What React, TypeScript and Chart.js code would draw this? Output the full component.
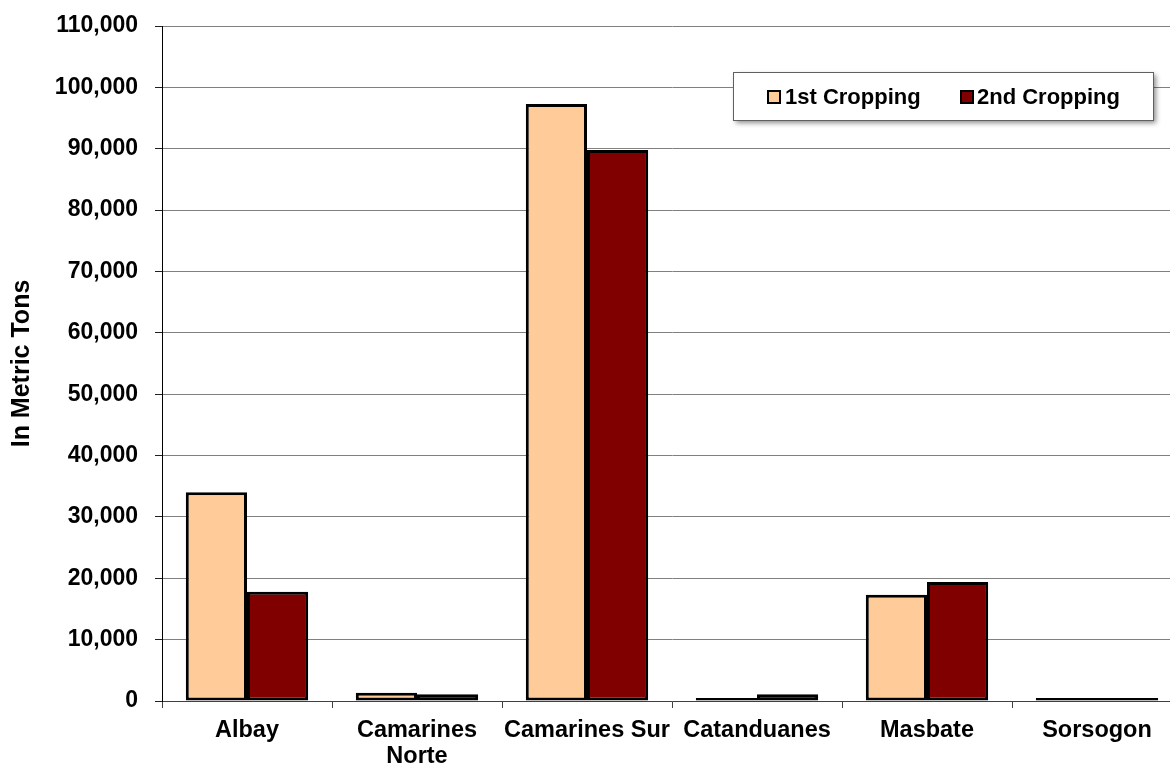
import React, { useEffect, useRef } from "react";
import { Chart, registerables } from "chart.js";

Chart.register(...registerables);

const categories: (string | string[])[] = [
  "Albay",
  ["Camarines", "Norte"],
  "Camarines Sur",
  "Catanduanes",
  "Masbate",
  "Sorsogon",
];
const firstCropping = [34000, 1350, 97300, 500, 17300, 500];
const secondCropping = [17800, 1100, 89800, 1100, 19400, 500];
const seriesLabels = ["1st Cropping", "2nd Cropping"];
const seriesColors = ["#FFCC99", "#800000"];
const yTitle = "In Metric Tons";

const FONT = "'Liberation Sans', Arial, sans-serif";

const boxLegend = {
  id: "boxLegend",
  afterDraw(chart: any) {
    const ctx = chart.ctx as CanvasRenderingContext2D;
    const x = 733, y = 72, w = 420, h = 48;
    ctx.save();
    ctx.shadowColor = "rgba(0,0,0,0.45)";
    ctx.shadowBlur = 5;
    ctx.shadowOffsetX = 3;
    ctx.shadowOffsetY = 3;
    ctx.fillStyle = "#ffffff";
    ctx.fillRect(x, y, w, h);
    ctx.restore();
    ctx.save();
    ctx.strokeStyle = "#606060";
    ctx.lineWidth = 1;
    ctx.strokeRect(x + 0.5, y + 0.5, w, h);
    const items = [
      { sx: 768, tx: 785 },
      { sx: 961, tx: 977 },
    ];
    const cy = 97;
    ctx.font = `bold 22px ${FONT}`;
    ctx.textBaseline = "middle";
    ctx.textAlign = "left";
    chart.data.datasets.forEach((ds: any, i: number) => {
      const it = items[i];
      ctx.fillStyle = ds.backgroundColor;
      ctx.fillRect(it.sx, cy - 6, 12, 12);
      ctx.strokeStyle = "#000";
      ctx.lineWidth = 2;
      ctx.strokeRect(it.sx, cy - 6, 12, 12);
      ctx.fillStyle = "#000";
      ctx.fillText(ds.label, it.tx, cy + 1);
    });
    ctx.restore();
  },
};

export default function App() {
  const ref = useRef<HTMLCanvasElement>(null);
  useEffect(() => {
    if (!ref.current) return;
    const chart = new Chart(ref.current, {
      type: "bar",
      data: {
        labels: categories,
        datasets: [
          {
            label: seriesLabels[0],
            data: firstCropping,
            backgroundColor: seriesColors[0],
            borderColor: "#000",
            borderWidth: 3,
            borderSkipped: false,
          },
          {
            label: seriesLabels[1],
            data: secondCropping,
            backgroundColor: seriesColors[1],
            borderColor: "#000",
            borderWidth: 3,
            borderSkipped: false,
          },
        ],
      },
      options: {
        responsive: false,
        animation: false,
        devicePixelRatio: 1,
        datasets: { bar: { categoryPercentage: 0.72, barPercentage: 1.0 } },
        layout: { padding: { top: 26, left: 0, right: 18, bottom: 0 } },
        plugins: { legend: { display: false }, tooltip: { enabled: false } },
        scales: {
          x: {
            grid: {
              offset: true,
              drawOnChartArea: false,
              drawTicks: true,
              tickLength: 7,
              tickColor: "#404040",
            },
            border: { color: "#404040", width: 1 },
            ticks: {
              color: "#000",
              font: { family: FONT, size: 23.5, weight: "bold", lineHeight: 1.13 },
              padding: 9,
              maxRotation: 0,
              autoSkip: false,
            },
            afterFit(scale: any) {
              scale.height = 66;
            },
          },
          y: {
            min: 0,
            max: 110000,
            ticks: {
              stepSize: 10000,
              color: "#000",
              font: { family: FONT, size: 23, weight: "bold" },
              padding: 17,
              callback: (v: any) => Number(v).toLocaleString("en-US"),
            },
            grid: {
              color: "#808080",
              tickLength: 7,
              tickColor: "#202020",
            },
            border: { color: "#000", width: 1 },
            title: {
              display: true,
              text: yTitle,
              color: "#000",
              font: { family: FONT, size: 25, weight: "bold" },
              padding: { top: 7, bottom: 0 },
            },
            afterFit(scale: any) {
              scale.width = 162;
              scale.paddingTop = 0;
              scale.paddingBottom = 0;
            },
          },
        },
      },
      plugins: [boxLegend],
    });
    return () => chart.destroy();
  }, []);
  return (
    <div
      style={{
        position: "fixed",
        left: 0,
        top: 0,
        width: 1170,
        height: 767,
        overflow: "hidden",
        background: "#fff",
      }}
    >
      <canvas ref={ref} width={1200} height={767} style={{ display: "block" }} />
    </div>
  );
}
